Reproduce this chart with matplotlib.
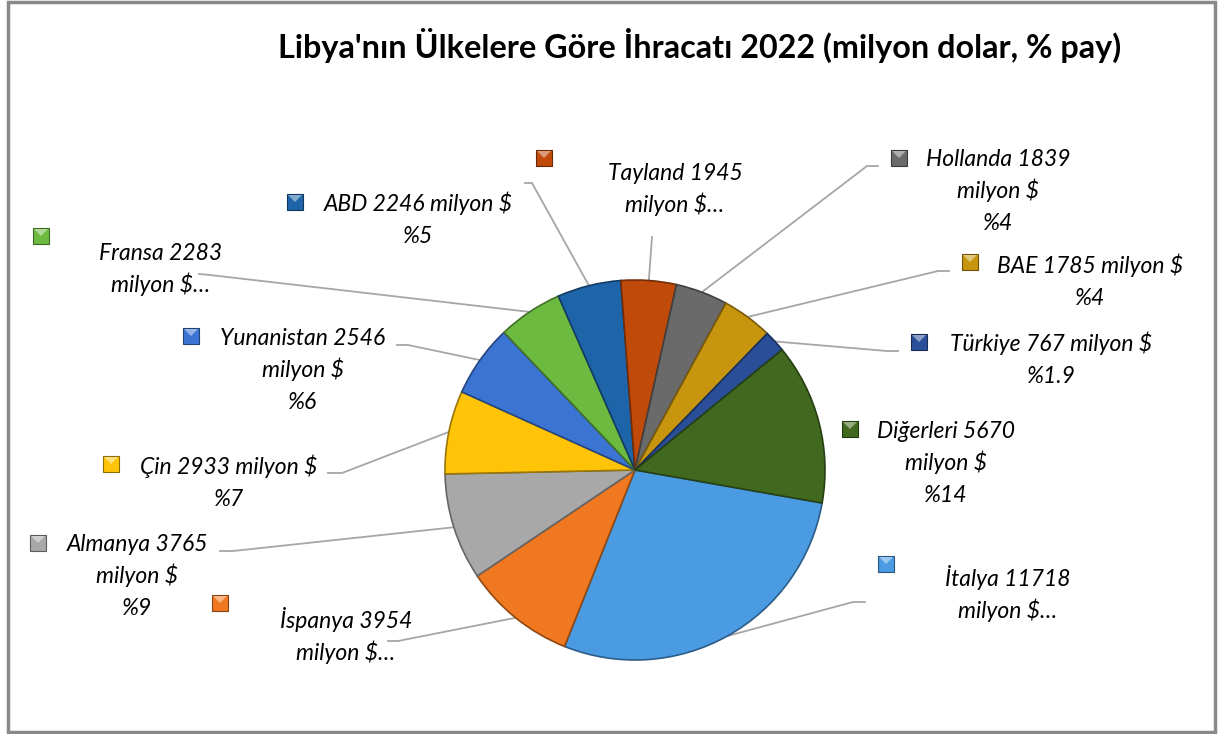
import matplotlib.pyplot as plt
import matplotlib.colors as mcolors
from matplotlib.patches import Rectangle, Polygon
import numpy as np

W, H = 1219, 734

# data (sorted as in the workbook, "Diğerleri" last)
countries = ['İtalya', 'İspanya', 'Almanya', 'Çin', 'Yunanistan', 'Fransa',
             'ABD', 'Tayland', 'Hollanda', 'BAE', 'Türkiye', 'Diğerleri']
values = [11718, 3954, 3765, 2933, 2546, 2283, 2246, 1945, 1839, 1785, 767, 5670]
label_lines = [
    ['İtalya 11718', 'milyon $…'],
    ['İspanya 3954', 'milyon $…'],
    ['Almanya 3765', 'milyon $', '%9'],
    ['Çin 2933 milyon $', '%7'],
    ['Yunanistan 2546', 'milyon $', '%6'],
    ['Fransa 2283', 'milyon $…'],
    ['ABD 2246 milyon $', '%5'],
    ['Tayland 1945', 'milyon $…'],
    ['Hollanda 1839', 'milyon $', '%4'],
    ['BAE 1785 milyon $', '%4'],
    ['Türkiye 767 milyon $', '%1.9'],
    ['Diğerleri 5670', 'milyon $', '%14'],
]
colors = ['#4a9be2', '#f07820', '#a8a8a8', '#ffc408', '#3c74d4', '#6cbb40',
          '#1e64a8', '#c04a0a', '#6a6a6a', '#c8960e', '#2a4f98', '#40691f']

# layout in image pixels (y down): text center x, first baseline y, key center, leader elbow
text_x = [1008, 346, 137, 229, 303, 161, 418, 675, 998, 1090, 1051, 946]
text_y = [586, 628, 551, 474, 345, 260, 211, 180, 166, 273, 351, 438]
key_xy = [(886, 564), (220, 603), (38, 543), (111, 464), (191, 336), (41, 236),
          (295, 202), (544, 158), (899, 158), (970, 262), (919, 342), (850, 429)]
leaders = [[(865, 602), (853, 602)], [(388, 641), (398, 641)], [(220, 551), (233, 551)],
           [(328, 473), (342, 473)], [(397, 345), (408, 345)], [(199, 274), (210, 275)],
           [(525, 183), (532, 183)], [(652, 237)], [(878, 166), (867, 166)],
           [(949, 271), (938, 271)], [(898, 351), (887, 351)], []]
cx, cy, R = 635, 470, 190

plt.rcParams['font.family'] = ['Lato', 'DejaVu Sans']

fig = plt.figure(figsize=(W / 100, H / 100), dpi=100)
ax = fig.add_axes([0, 0, 1, 1])


def Y(y):
    return H - y


def darker(c, f=0.7):
    r, g, b = mcolors.to_rgb(c)
    return (r * f, g * f, b * f)


def lighter(c, f=0.45):
    r, g, b = mcolors.to_rgb(c)
    return (r + (1 - r) * f, g + (1 - g) * f, b + (1 - b) * f)


wedges, _ = ax.pie(values, colors=colors, startangle=-10, counterclock=False,
                   center=(cx, Y(cy)), radius=R,
                   wedgeprops=dict(linewidth=1.2))
for w, c in zip(wedges, colors):
    w.set_edgecolor(darker(c, 0.6))
    w.set_zorder(2)

ax.set_xlim(0, W)
ax.set_ylim(0, H)
ax.set_aspect('auto')
ax.set_axis_off()

for i, w in enumerate(wedges):
    mid = np.deg2rad((w.theta1 + w.theta2) / 2)
    edge = (cx + R * np.cos(mid), Y(cy) + R * np.sin(mid))
    if leaders[i]:
        pts = [(x, Y(y)) for x, y in leaders[i]] + [edge]
        xs, ys = zip(*pts)
        ax.plot(xs, ys, color='#a6a6a6', lw=1.3, zorder=1)
    for k, line in enumerate(label_lines[i]):
        ax.text(text_x[i], Y(text_y[i] + 32 * k), line, ha='center', va='baseline',
                fontsize=16.5, style='italic', color='#000000')
    kx, ky = key_xy[i]
    ax.add_patch(Rectangle((kx - 8, Y(ky + 8)), 16, 16, facecolor=colors[i],
                           edgecolor=darker(colors[i], 0.55), lw=0.8, zorder=3))
    ax.add_patch(Polygon([(kx - 7, Y(ky - 7)), (kx + 7, Y(ky - 7)), (kx, Y(ky))],
                         closed=True, facecolor=lighter(colors[i]), edgecolor='none',
                         zorder=4))

ax.text(700, Y(58), "Libya'nın Ülkelere Göre İhracatı 2022 (milyon dolar, % pay)",
        ha='center', va='baseline', fontsize=23.3, fontweight='bold', color='#000000')

ax.add_patch(Rectangle((8, Y(732)), 1207, 730, fill=False, edgecolor='#898989',
                       lw=2.5, clip_on=False))

plt.savefig('out.png', dpi=100)
